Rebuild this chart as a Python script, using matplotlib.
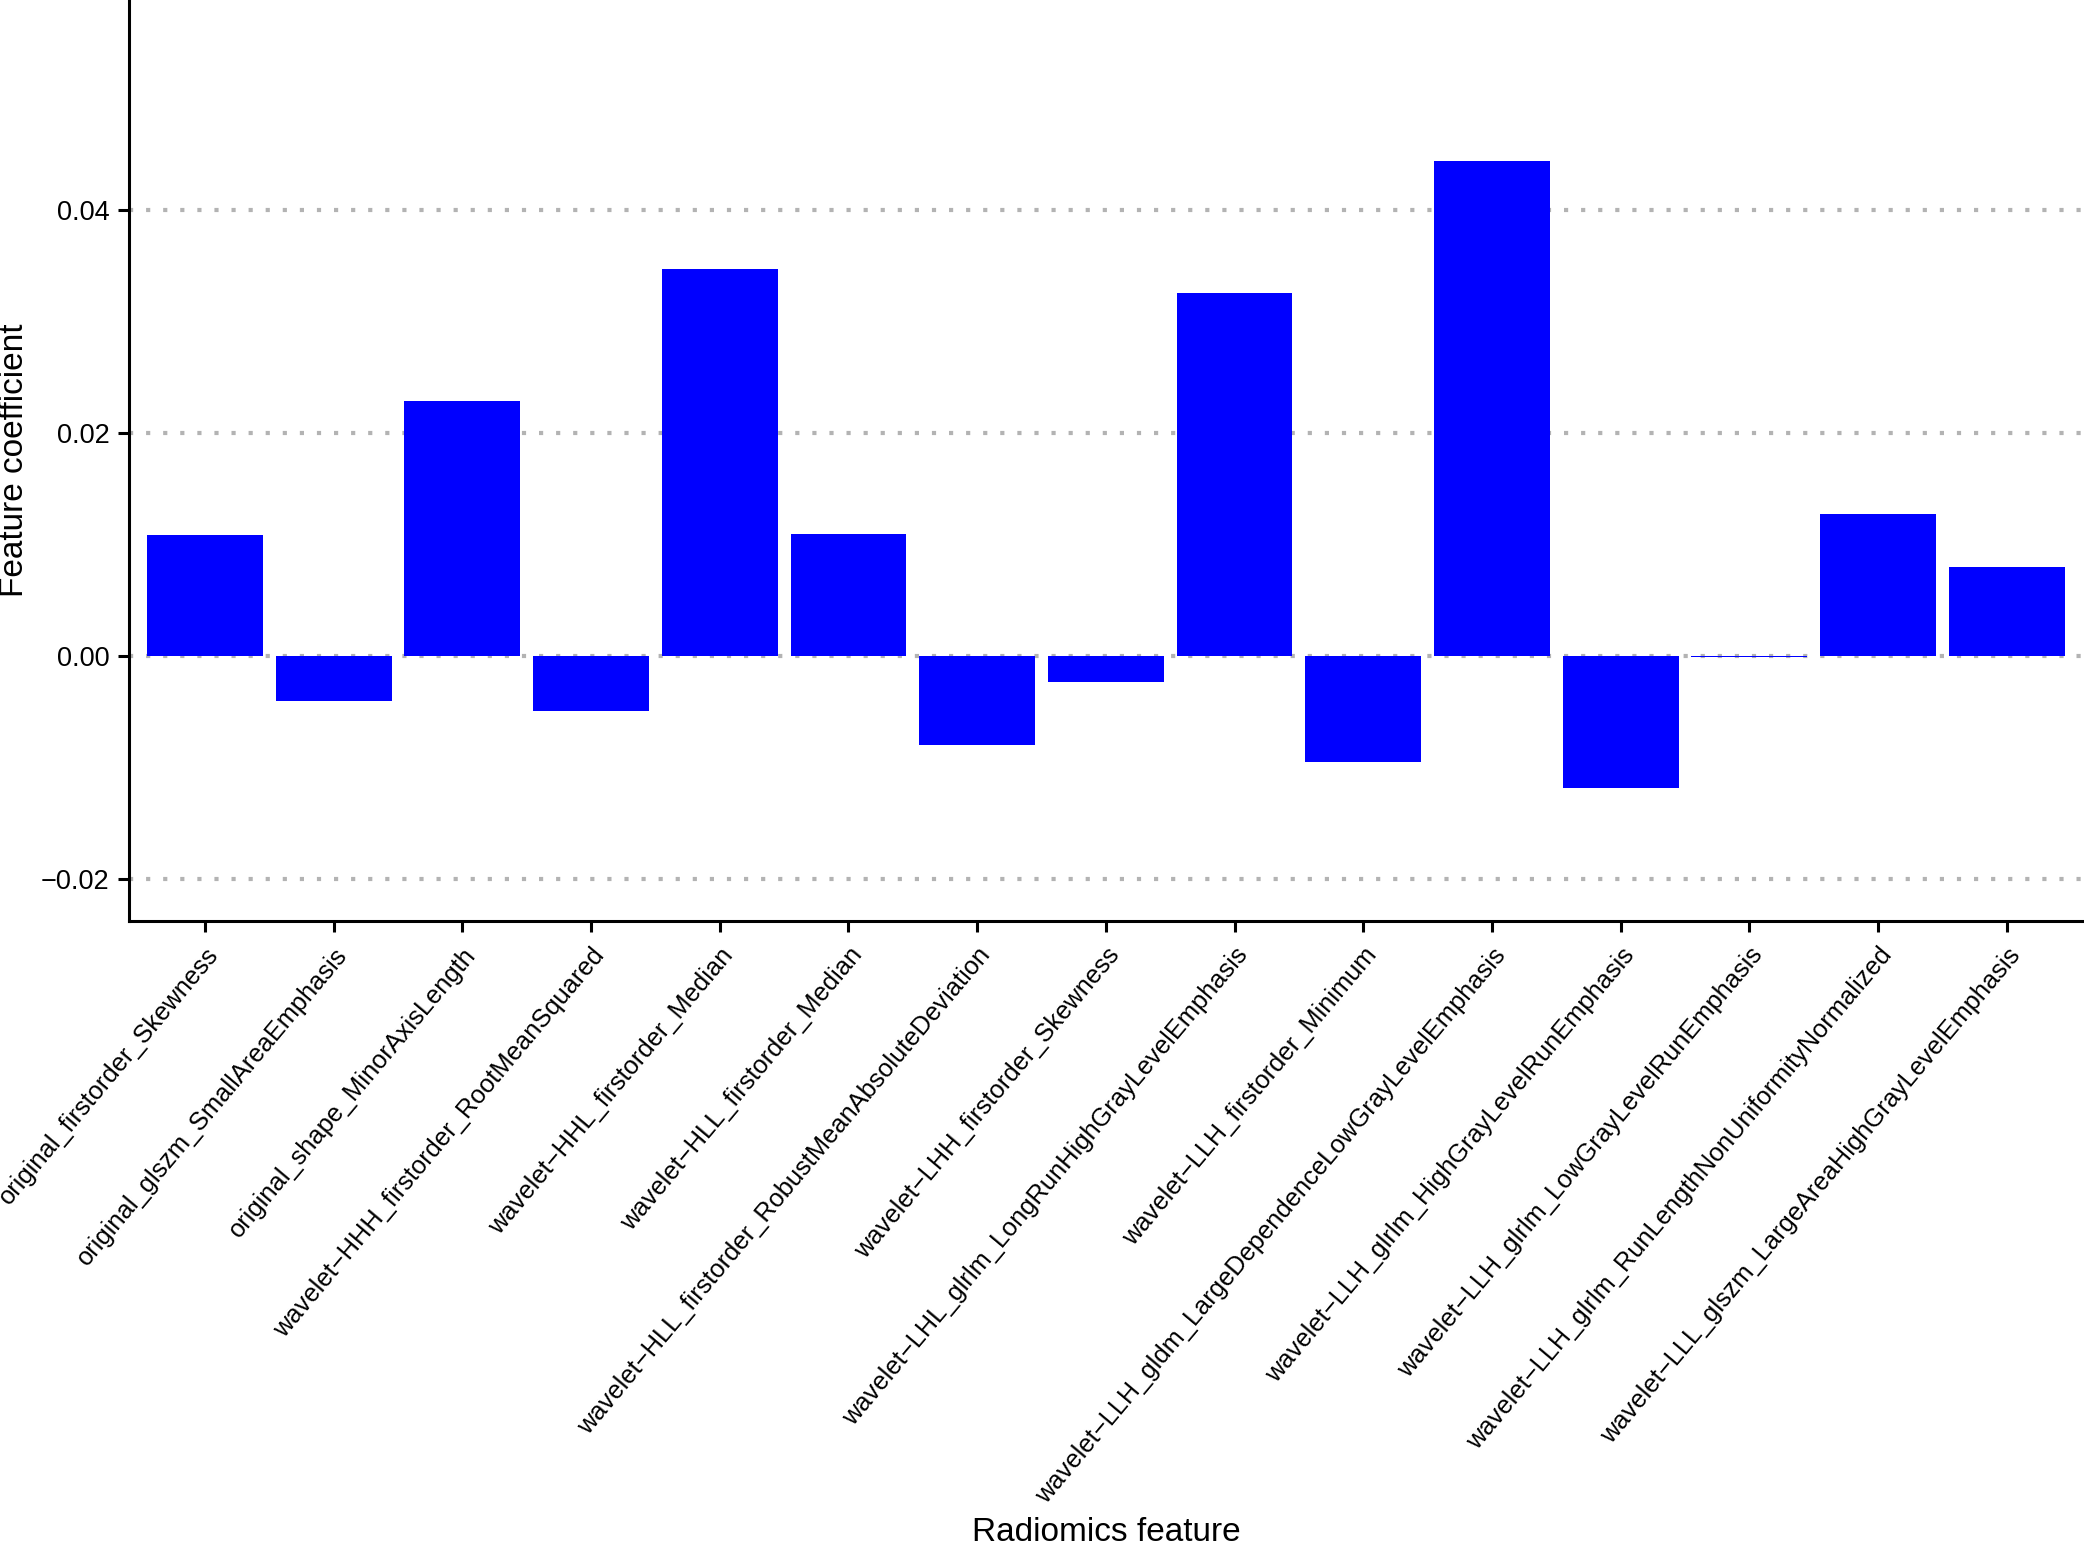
import matplotlib
matplotlib.use("Agg")
import numpy as np
from matplotlib import pyplot as plt

features = [
	"original_firstorder_Skewness",
	"original_glszm_SmallAreaEmphasis",
	"original_shape_MinorAxisLength",
	"wavelet\u2212HHH_firstorder_RootMeanSquared",
	"wavelet\u2212HHL_firstorder_Median",
	"wavelet\u2212HLL_firstorder_Median",
	"wavelet\u2212HLL_firstorder_RobustMeanAbsoluteDeviation",
	"wavelet\u2212LHH_firstorder_Skewness",
	"wavelet\u2212LHL_glrlm_LongRunHighGrayLevelEmphasis",
	"wavelet\u2212LLH_firstorder_Minimum",
	"wavelet\u2212LLH_gldm_LargeDependenceLowGrayLevelEmphasis",
	"wavelet\u2212LLH_glrlm_HighGrayLevelRunEmphasis",
	"wavelet\u2212LLH_glrlm_LowGrayLevelRunEmphasis",
	"wavelet\u2212LLH_glrlm_RunLengthNonUniformityNormalized",
	"wavelet\u2212LLL_glszm_LargeAreaHighGrayLevelEmphasis",
]
coefficients = [
	0.01085, -0.00406, 0.02287, -0.00493, 0.03468,
	0.01094, -0.00798, -0.00233, 0.03253, -0.00954,
	0.04441, -0.01184, -0.00012, 0.01271, 0.00796,
]
y_ticks = [-0.02, 0.00, 0.02, 0.04]
y_tick_labels = ["\u22120.02", "0.00", "0.02", "0.04"]

plt.rcParams['font.family'] = ['Liberation Sans', 'DejaVu Sans']

W, H = 2084, 1544
fig = plt.figure(figsize=(W / 100, H / 100), dpi=100)
ax = fig.add_axes([129 / W, (H - 921) / H, (W - 129) / W, 921 / H])

x = np.arange(len(features))
ax.bar(x, coefficients, width=0.9, color="#0000FF", linewidth=0, zorder=2)

ax.set_xlim(-0.59, 14.6)
ax.set_ylim(-0.02377, 0.05883)

ax.set_axisbelow(True)
ax.set_yticks(y_ticks, labels=y_tick_labels)
ax.yaxis.grid(True, color="#B3B3B3", linewidth=3.0, linestyle=(0, (1, 3.1)), dash_capstyle="butt")
ax.xaxis.grid(False)

ax.set_xticks(x)
ax.set_xticklabels(features, rotation=50, ha="right", va="top", rotation_mode="anchor")

for side in ["top", "right"]:
	ax.spines[side].set_visible(False)
for side in ["left", "bottom"]:
	ax.spines[side].set_linewidth(2.2)
	ax.spines[side].set_color("black")

ax.tick_params(axis="both", length=8, width=2.2, color="black", labelcolor="black")
ax.tick_params(axis="x", pad=8, labelsize=18.3)
ax.tick_params(axis="y", pad=6, labelsize=19.5)

fig.text(15 / W, (H - 460) / H, "Feature coefficient", rotation=90, ha="center", va="center", fontsize=24)
fig.text(1106 / W, 0.002, "Radiomics feature", ha="center", va="baseline", fontsize=24)

fig.savefig("out.png", dpi=100)
